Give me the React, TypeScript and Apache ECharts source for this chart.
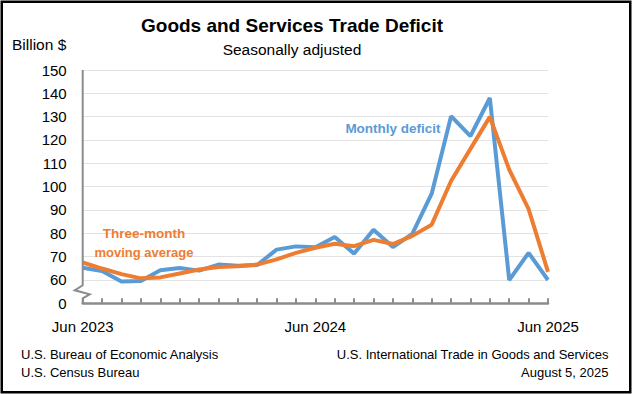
import React, { useEffect, useRef } from "react";
import * as echarts from "echarts";

const months = [
  "Jun 2023", "Jul 2023", "Aug 2023", "Sep 2023", "Oct 2023", "Nov 2023", "Dec 2023",
  "Jan 2024", "Feb 2024", "Mar 2024", "Apr 2024", "May 2024", "Jun 2024", "Jul 2024",
  "Aug 2024", "Sep 2024", "Oct 2024", "Nov 2024", "Dec 2024", "Jan 2025", "Feb 2025",
  "Mar 2025", "Apr 2025", "May 2025", "Jun 2025",
];
const monthlyDeficit = [
  65.2, 63.8, 59.3, 59.6, 64.2, 65.1, 64.0, 66.6, 66.1, 66.4, 73.0, 74.4, 74.0,
  78.4, 71.3, 81.5, 74.1, 79.8, 97.0, 130.2, 121.7, 138.0, 60.0, 71.6, 60.0,
];
const movingAverage = [
  67.5, 64.9, 62.5, 60.7, 61.1, 62.8, 64.5, 65.6, 65.9, 66.6, 68.8, 71.6, 73.8,
  75.5, 74.5, 77.2, 75.4, 78.9, 83.7, 102.4, 116.2, 129.9, 107.3, 90.4, 63.5,
];
const shownXLabels = ["Jun 2023", "Jun 2024", "Jun 2025"];
const yMin = 50;
const yMax = 150;
const yStep = 10;

const FONT = "'Liberation Sans', Arial, sans-serif";
const BLUE = "#5B9BD5";
const ORANGE = "#ED7D31";
const AXIS_GRAY = "#8c8c8c";

export default function App() {
  const ref = useRef<HTMLDivElement>(null);
  useEffect(() => {
    document.body.style.margin = "0";
    if (!ref.current) return;
    const chart = echarts.init(ref.current, undefined, { renderer: "svg", width: 632, height: 394 });
    const option: any = {
      animation: false,
      backgroundColor: "#ffffff",
      grid: { left: 82.7, right: 84, top: 70, bottom: 90.7, containLabel: false },
      xAxis: {
        type: "category",
        data: months,
        boundaryGap: false,
        axisLine: { show: true, lineStyle: { color: AXIS_GRAY, width: 2.5 } },
        axisTick: { show: true, inside: true, length: 5, interval: 0, lineStyle: { color: AXIS_GRAY, width: 2 } },
        axisLabel: {
          interval: 0,
          margin: 16,
          color: "#000",
          fontSize: 15,
          fontFamily: FONT,
          formatter: (v: string) => (shownXLabels.includes(v) ? v : ""),
        },
        splitLine: { show: false },
      },
      yAxis: {
        type: "value",
        min: yMin,
        max: yMax,
        interval: yStep,
        axisLine: { show: false },
        axisTick: { show: false },
        axisLabel: {
          margin: 16,
          color: "#000",
          fontSize: 15,
          fontFamily: FONT,
          formatter: (v: number) => (v === yMin ? "0" : String(v)),
        },
        splitLine: {
          show: true,
          lineStyle: { color: "#e3e3e3", width: 1 },
        },
      },
      series: [
        {
          name: "Monthly deficit",
          type: "line",
          data: monthlyDeficit,
          symbol: "none",
          lineStyle: { color: BLUE, width: 4 },
          z: 2,
        },
        {
          name: "Three-month moving average",
          type: "line",
          data: movingAverage,
          symbol: "none",
          lineStyle: { color: ORANGE, width: 4 },
          z: 3,
        },
      ],
    };
    chart.setOption(option);

    const top = chart.convertToPixel({ gridIndex: 0 }, [0, yMax]) as number[];
    const bottom = chart.convertToPixel({ gridIndex: 0 }, [0, yMin]) as number[];
    const x0 = top[0];
    const breakY = bottom[1] - 18;
    chart.setOption({
      graphic: [
        {
          type: "polyline",
          shape: {
            points: [
              [x0, top[1]],
              [x0, breakY],
              [x0 - 8, breakY + 5],
              [x0 + 7, breakY + 9],
              [x0, breakY + 13],
              [x0, bottom[1]],
            ],
          },
          style: { stroke: AXIS_GRAY, lineWidth: 2, fill: null },
          z: 10,
        },
        {
          type: "rect",
          shape: { x: 1.75, y: 1.75, width: 628.5, height: 390.5 },
          style: { stroke: "#000", lineWidth: 2.5, fill: null },
          z: 20,
        },
        {
          type: "text",
          x: 292, y: 25,
          style: { text: "Goods and Services Trade Deficit", font: `bold 19px ${FONT}`, fill: "#000", align: "center", verticalAlign: "middle" },
        },
        {
          type: "text",
          x: 292, y: 49,
          style: { text: "Seasonally adjusted", font: `15.5px ${FONT}`, fill: "#000", align: "center", verticalAlign: "middle" },
        },
        {
          type: "text",
          x: 12, y: 44,
          style: { text: "Billion $", font: `15.5px ${FONT}`, fill: "#000", align: "left", verticalAlign: "middle" },
        },
        {
          type: "text",
          x: 393, y: 128,
          style: { text: "Monthly deficit", font: `bold 13.5px ${FONT}`, fill: BLUE, align: "center", verticalAlign: "middle" },
        },
        {
          type: "text",
          x: 144, y: 233,
          style: { text: "Three-month", font: `bold 13.5px ${FONT}`, fill: ORANGE, align: "center", verticalAlign: "middle" },
        },
        {
          type: "text",
          x: 144, y: 252,
          style: { text: "moving average", font: `bold 13px ${FONT}`, fill: ORANGE, align: "center", verticalAlign: "middle" },
        },
        {
          type: "text",
          x: 21, y: 354,
          style: { text: "U.S. Bureau of Economic Analysis", font: `13px ${FONT}`, fill: "#000", align: "left", verticalAlign: "middle" },
        },
        {
          type: "text",
          x: 21, y: 372,
          style: { text: "U.S. Census Bureau", font: `13px ${FONT}`, fill: "#000", align: "left", verticalAlign: "middle" },
        },
        {
          type: "text",
          x: 608.5, y: 354,
          style: { text: "U.S. International Trade in Goods and Services", font: `13px ${FONT}`, fill: "#000", align: "right", verticalAlign: "middle" },
        },
        {
          type: "text",
          x: 608.5, y: 372,
          style: { text: "August 5, 2025", font: `13px ${FONT}`, fill: "#000", align: "right", verticalAlign: "middle" },
        },
      ],
    });
    return () => chart.dispose();
  }, []);
  return <div ref={ref} style={{ width: 632, height: 394 }} />;
}
